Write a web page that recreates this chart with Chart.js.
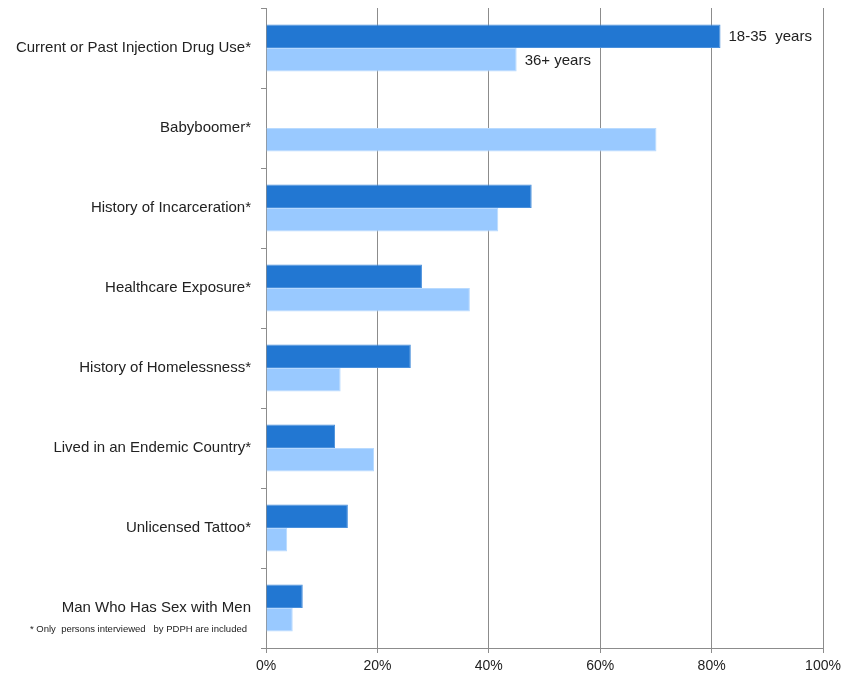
<!DOCTYPE html>
<html>
<head>
<meta charset="utf-8">
<script src="https://cdn.jsdelivr.net/npm/chart.js@4.4.0/dist/chart.umd.min.js"></script>
<style>
html,body{margin:0;padding:0;background:#fff;}
#wrap{position:relative;width:841px;height:675px;}
</style>
</head>
<body>
<div id="wrap"><canvas id="c" width="841" height="675"></canvas></div>
<script>
const categories = [
  "Current or Past Injection Drug Use*",
  "Babyboomer*",
  "History of Incarceration*",
  "Healthcare Exposure*",
  "History of Homelessness*",
  "Lived in an Endemic Country*",
  "Unlicensed Tattoo*",
  "Man Who Has Sex with Men"
];
const seriesNames = ["18-35  years", "36+ years"];
const young = [81.6, 0, 47.7, 28.0, 26.0, 12.4, 14.7, 6.6];
const older = [45.0, 70.1, 41.7, 36.6, 13.4, 19.4, 3.8, 4.8];
const footnote = "* Only  persons interviewed   by PDPH are included";

const FONT = "'Liberation Sans', Arial, sans-serif";

const labelPlugin = {
  id: 'endLabels',
  afterDatasetsDraw(chart) {
    const ctx = chart.ctx;
    ctx.save();
    ctx.font = "15px " + FONT;
    ctx.fillStyle = "#222";
    ctx.textBaseline = "middle";
    ctx.textAlign = "left";
    chart.data.datasets.forEach((ds, i) => {
      const meta = chart.getDatasetMeta(i);
      const el = meta.data[0];
      ctx.fillText(ds.label, el.x + 8, el.y + 1);
    });
    ctx.font = "9.5px " + FONT;
    ctx.textAlign = "right";
    ctx.fillText(footnote, 247, 629);
    ctx.restore();
  }
};

new Chart(document.getElementById('c'), {
  type: 'bar',
  data: {
    labels: categories,
    datasets: [
      { label: seriesNames[0], data: young, backgroundColor: '#2277d2', borderColor: '#4a90dc', borderWidth: 1 },
      { label: seriesNames[1], data: older, backgroundColor: '#99c9ff', borderColor: '#b8daff', borderWidth: 1 }
    ]
  },
  options: {
    indexAxis: 'y',
    responsive: false,
    animation: false,
    events: [],
    layout: { padding: { top: 8, right: 18, bottom: 0, left: 0 } },
    datasets: { bar: { categoryPercentage: 0.59, barPercentage: 1.0 } },
    plugins: { legend: { display: false }, tooltip: { enabled: false } },
    scales: {
      x: {
        min: 0, max: 100,
        ticks: { stepSize: 20, callback: v => v + '%', color: '#222', font: { size: 14, family: FONT }, padding: 5 },
        grid: { color: '#8c8c8c', lineWidth: 1, tickLength: 5, drawTicks: true },
        border: { color: '#8c8c8c', width: 1 },
        afterFit(s) { s.height = 27; s.paddingLeft = 0; s.paddingRight = 0; }
      },
      y: {
        ticks: { color: '#222', font: { size: 15, family: FONT }, padding: 10 },
        grid: { drawOnChartArea: false, drawTicks: true, tickLength: 5, color: '#8c8c8c', offset: true },
        border: { color: '#8c8c8c', width: 1 },
        afterFit(s) { s.width = 266; s.paddingTop = 0; s.paddingBottom = 0; }
      }
    }
  },
  plugins: [labelPlugin]
});
</script>
</body>
</html>
